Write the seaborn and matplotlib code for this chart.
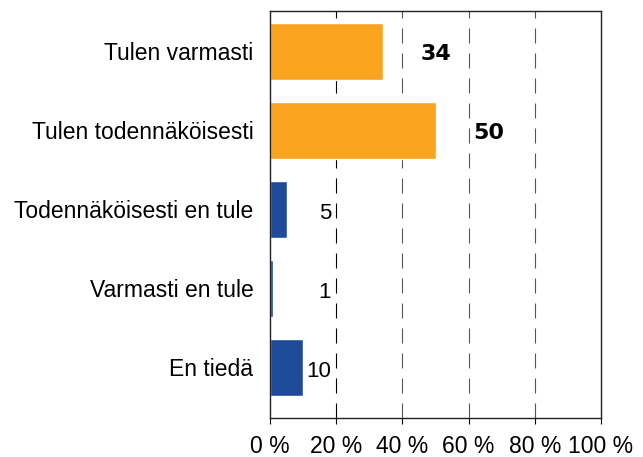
import matplotlib
matplotlib.use("Agg")
import matplotlib.pyplot as plt
import seaborn as sns
import pandas as pd

categories = ["Tulen varmasti", "Tulen todennäköisesti", "Todennäköisesti en tule",
              "Varmasti en tule", "En tiedä"]
values = [34, 50, 5, 1, 10]
bar_colors = ["#F8A41E", "#F8A41E", "#1F4B9B", "#1F4B9B", "#1F4B9B"]
xticks = [0, 20, 40, 60, 80, 100]
xtick_labels = ["0 %", "20 %", "40 %", "60 %", "80 %", "100 %"]

sns.set_theme(style="white")
plt.rcParams["font.family"] = ["Liberation Sans", "DejaVu Sans"]
plt.rcParams["text.color"] = "black"
plt.rcParams["xtick.color"] = "black"
plt.rcParams["ytick.color"] = "black"

df = pd.DataFrame({"cat": categories, "val": values})

fig = plt.figure(figsize=(6.43, 4.57), dpi=100)
ax = fig.add_axes([0.42, 0.0853, 0.5147, 0.8907])

# gridlines
for i, t in enumerate(xticks[1:-1]):
    ax.axvline(t, color="black" if i == 0 else "#555555", lw=0.8,
               dashes=(13.5, 9), zorder=0)

sns.barplot(data=df, x="val", y="cat", hue="cat", palette=bar_colors,
            legend=False, width=0.72, orient="h", ax=ax, zorder=2,
            saturation=1)

for i, v in enumerate(values):
    if v >= 30:
        ax.text(v + 16.0, i + 0.03, f"{v}", ha="center", va="center",
                fontsize=16, fontweight="heavy", family="DejaVu Sans",
                color="black", zorder=3)
    else:
        ax.text(18.4, i + 0.05, f"{v}", ha="right", va="center",
                fontsize=16, color="black", zorder=3)

ax.set_xlim(0, 100)
ax.set_ylim(4.64, -0.51)
ax.set_xticks(xticks)
ax.set_xticklabels(xtick_labels, fontsize=16.5)
ax.tick_params(axis="x", length=4, width=0.8, color="black", pad=8.5, bottom=True,
               labelcolor="black")
ax.tick_params(axis="y", length=0, pad=12, labelsize=16.5, labelcolor="black")
ax.set_xlabel("")
ax.set_ylabel("")
for s in ax.spines.values():
    s.set_visible(True)
    s.set_color("#222222")
    s.set_linewidth(1.0)

fig.savefig("out.png", dpi=100)
